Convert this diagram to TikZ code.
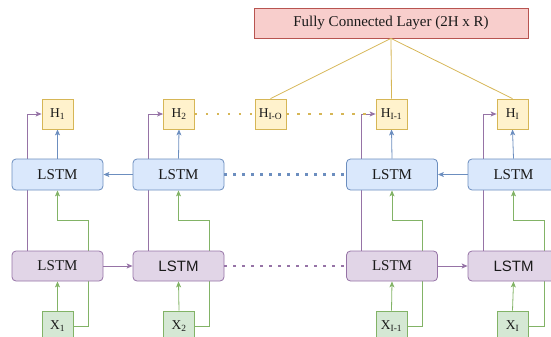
\documentclass[tikz,border=0pt]{standalone}
\usepackage{fontspec}
\setmainfont{Liberation Serif}
\newfontfamily\sansf{Liberation Sans}
\usetikzlibrary{arrows.meta,backgrounds}
\definecolor{ylwF}{HTML}{FFF2CC}\definecolor{ylwD}{HTML}{D6B656}
\definecolor{bluF}{HTML}{DAE8FC}\definecolor{bluD}{HTML}{6C8EBF}
\definecolor{purF}{HTML}{E1D5E7}\definecolor{purD}{HTML}{9673A6}
\definecolor{grnF}{HTML}{D5E8D4}\definecolor{grnD}{HTML}{82B366}
\definecolor{redF}{HTML}{F8CECC}\definecolor{redD}{HTML}{B85450}
\definecolor{txt}{HTML}{1A1A1A}
\tikzset{
  box/.style={draw, line width=0.8pt, inner sep=0pt, text=txt},
  hbox/.style={box, fill=ylwF, draw=ylwD, minimum width=31pt, minimum height=30pt, font=\fontsize{13.5}{15}\selectfont},
  xbox/.style={box, fill=grnF, draw=grnD, minimum width=31pt, minimum height=30pt, font=\fontsize{13.5}{15}\selectfont},
  blstm/.style={box, rounded corners=4pt, fill=bluF, draw=bluD, minimum width=91pt, minimum height=31pt, font=\fontsize{15}{18}\selectfont},
  plstm/.style={box, rounded corners=4pt, fill=purF, draw=purD, minimum width=91pt, minimum height=30pt, font=\fontsize{15}{18}\selectfont},
  fcbox/.style={box, fill=redF, draw=redD, minimum width=274pt, minimum height=30pt, font=\fontsize{15}{18}\selectfont},
  tip/.style={-{Stealth[length=6pt,width=5pt,inset=1.5pt]}},
  gline/.style={draw=grnD, line width=0.8pt},
  pline/.style={draw=purD, line width=0.8pt},
  bline/.style={draw=bluD, line width=0.8pt},
  yline/.style={draw=ylwD, line width=0.8pt},
  bdot/.style={draw=bluD, line width=2.2pt, dash pattern=on 2.2pt off 6.8pt},
  pdot/.style={draw=purD, line width=2.2pt, dash pattern=on 2.2pt off 6.8pt},
  ydot/.style={draw=ylwD, line width=2.2pt, dash pattern=on 2.2pt off 8.8pt},
}
\begin{document}
\begin{tikzpicture}[x=1pt,y=-1pt]
\useasboundingbox (0,0) rectangle (551,337);
\node[fcbox] (fc) at (391,23) {Fully Connected Layer (2H x R)};
% H row
\node[hbox] (h1) at (57.5,114) {H\textsubscript{1}};
\node[hbox] (h2) at (179,114) {H\textsubscript{2}};
\node[hbox] (h3) at (270.5,114) {H\textsubscript{I-O}};
\node[hbox] (h4) at (391.5,114) {H\textsubscript{I-1}};
\node[hbox] (h5) at (512.5,114) {H\textsubscript{I}};
% blue LSTM row
\node[blstm] (b1) at (57.5,174.5) {LSTM};
\node[blstm] (b2) at (178.5,174.5) {LSTM};
\node[blstm] (b3) at (392,174.5) {LSTM};
\node[blstm] (b4) at (513.5,174.5) {LSTM};
% purple LSTM row
\node[plstm] (p1) at (57.5,266) {LSTM};
\node[plstm] (p2) at (178.5,266) {\sansf LSTM};
\node[plstm] (p3) at (392,266) {LSTM};
\node[plstm] (p4) at (513.5,266) {\sansf LSTM};
% X row
\node[xbox] (x1) at (57.5,326) {X\textsubscript{1}};
\node[xbox] (x2) at (179,326) {X\textsubscript{2}};
\node[xbox] (x3) at (391.5,326) {X\textsubscript{I-1}};
\node[xbox] (x4) at (512.5,326) {X\textsubscript{I}};
\begin{scope}[on background layer]
\foreach \i in {1,...,4}{
  \draw[gline,tip] (x\i.north) -- (p\i.south);
  \draw[gline,tip] (x\i.east) -| ([xshift=30.5pt,yshift=-30pt]b\i.south) -| (b\i.south);
}
\draw[pline,tip] ([xshift=-30.5pt]p1.north) |- (h1.west);
\draw[pline,tip] ([xshift=-30.5pt]p2.north) |- (h2.west);
\draw[pline,tip] ([xshift=-30.5pt]p3.north) |- (h4.west);
\draw[pline,tip] ([xshift=-30.5pt]p4.north) |- (h5.west);
\draw[bline,tip] (b1.north) -- (h1.south);
\draw[bline,tip] (b2.north) -- (h2.south);
\draw[bline,tip] (b3.north) -- (h4.south);
\draw[bline,tip] (b4.north) -- (h5.south);
\end{scope}
\draw[bline,tip] (b2.west) -- (b1.east);
\draw[bline,tip] (b4.west) -- (b3.east);
\draw[pline,tip] (p1.east) -- (p2.west);
\draw[pline,tip] (p3.east) -- (p4.west);
\draw[bdot] (b2.east) -- (b3.west);
\draw[pdot] (p2.east) -- (p3.west);
\draw[ydot] (h2.east) -- (h3.west);
\draw[ydot] (h3.east) -- ([xshift=-6pt]h4.west);
\draw[yline] (fc.south) -- (h3.north);
\draw[yline] (fc.south) -- (h4.north);
\draw[yline] (fc.south) -- (h5.north);
\end{tikzpicture}
\end{document}
